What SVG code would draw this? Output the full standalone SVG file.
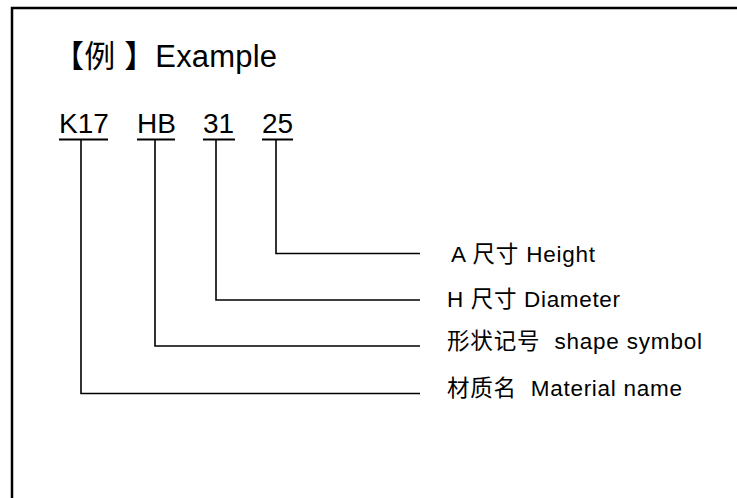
<svg xmlns="http://www.w3.org/2000/svg" width="737" height="498" viewBox="0 0 737 498">
<style>
  .t { font-family: "Liberation Sans", "Noto Sans CJK SC", Arial, sans-serif; fill: #000; }
  .code { font-size: 28px; }
  .lbl { font-size: 22.5px; }
  .ln { fill: none; stroke: #000; stroke-width: 1.6; }
  .ul { fill: none; stroke: #000; stroke-width: 2; }
</style>
<rect width="737" height="498" fill="#fff"/>
<path d="M12,498 V8 H737" fill="none" stroke="#000" stroke-width="2.5"/>
<g id="title">
  <text class="t" x="53" y="67" font-size="31" textLength="224" lengthAdjust="spacing">【例 】Example</text>
</g>
<g id="code-K17">
  <text class="t code" x="59" y="133">K17</text>
  <line class="ul" x1="59" y1="139.5" x2="108" y2="139.5"/>
</g>
<g id="code-HB">
  <text class="t code" x="137" y="133">HB</text>
  <line class="ul" x1="137" y1="139.5" x2="175" y2="139.5"/>
</g>
<g id="code-31">
  <text class="t code" x="203" y="133">31</text>
  <line class="ul" x1="203" y1="139.5" x2="235" y2="139.5"/>
</g>
<g id="code-25">
  <text class="t code" x="262" y="133">25</text>
  <line class="ul" x1="262" y1="139.5" x2="293" y2="139.5"/>
</g>
<g id="label-height">
  <text class="t lbl" x="451" y="261.5" textLength="144" lengthAdjust="spacing">A 尺寸 Height</text>
</g>
<g id="label-diameter">
  <text class="t lbl" x="447" y="306.5" textLength="173" lengthAdjust="spacing">H 尺寸 Diameter</text>
</g>
<g id="label-shape">
  <text class="t lbl" x="447" y="349" xml:space="preserve" textLength="255" lengthAdjust="spacing">形状记号  shape symbol</text>
</g>
<g id="label-material">
  <text class="t lbl" x="447" y="396" xml:space="preserve" textLength="235" lengthAdjust="spacing">材质名  Material name</text>
</g>
<g id="connectors">
  <path class="ln" d="M276,140 V253.5 H420"/>
  <path class="ln" d="M216,140 V300 H420"/>
  <path class="ln" d="M155,140 V346 H420"/>
  <path class="ln" d="M81,140 V393.5 H420"/>
</g>
</svg>
